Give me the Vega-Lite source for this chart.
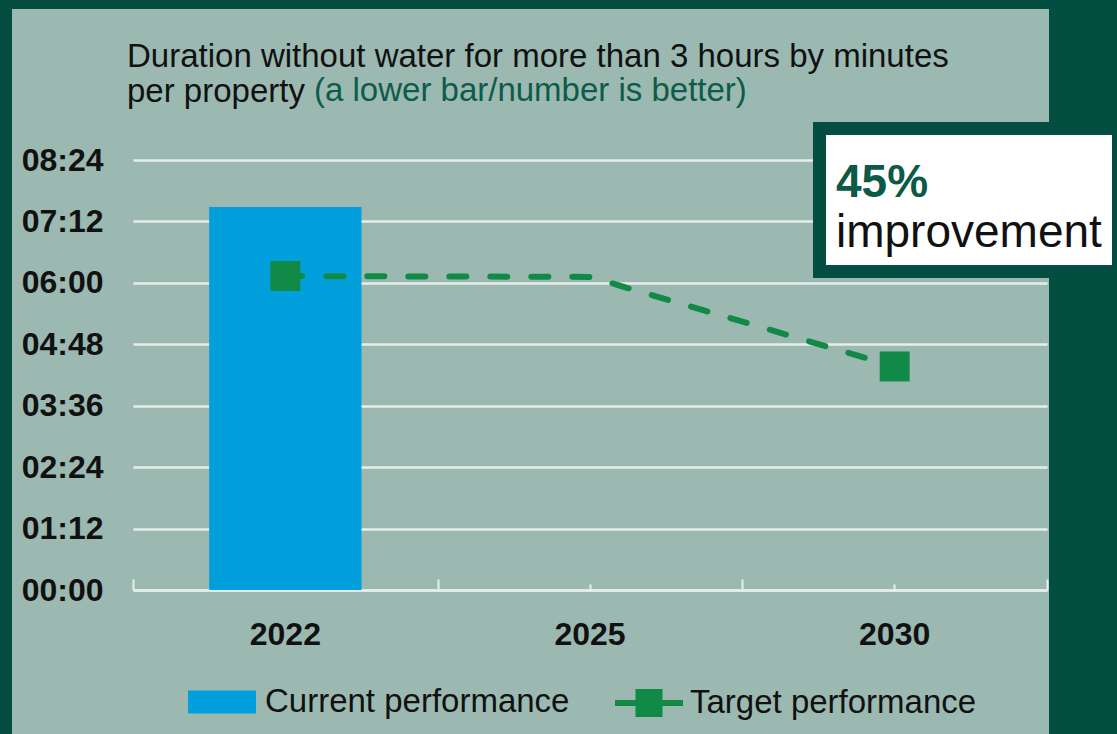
{
  "$schema": "https://vega.github.io/schema/vega-lite/v6.json",
  "width": 914,
  "height": 430,
  "autosize": "none",
  "padding": {"left": 133, "top": 160, "right": 70, "bottom": 144},
  "background": "#9bb9b1",
  "title": {
    "text": ["Duration without water for more than 3 hours by minutes", "per property"],
    "anchor": "start",
    "frame": "group",
    "orient": "top",
    "dx": -6,
    "offset": -109,
    "font": "Liberation Sans",
    "fontSize": 33,
    "fontWeight": "normal",
    "color": "#111111",
    "lineHeight": 35
  },
  "layer": [
    {
      "data": {"values": [{}]},
      "layer": [
        {
          "mark": {"type": "rect", "color": "#044e41"},
          "encoding": {
            "x": {"datum": -0.6, "type": "quantitative", "scale": {"domain": [0, 3], "nice": false, "zero": false},
              "axis": {"values": [0, 1, 2, 3], "orient": "bottom", "labels": false, "grid": false, "domain": false, "ticks": true, "tickSize": -11, "tickWidth": 2, "tickColor": "#e6eeeb", "title": null}},
            "x2": {"datum": -0.3972},
            "y": {"datum": -200, "type": "quantitative", "scale": {"domain": [0, 504], "nice": false}},
            "y2": {"datum": 691.5}
          }
        },
        {
          "mark": {"type": "rect", "color": "#044e41"},
          "encoding": {
            "x": {"datum": -0.6, "type": "quantitative", "scale": {"domain": [0, 3], "nice": false, "zero": false}},
            "x2": {"datum": 3.4},
            "y": {"datum": 681, "type": "quantitative", "scale": {"domain": [0, 504], "nice": false}},
            "y2": {"datum": 691.5}
          }
        },
        {
          "mark": {"type": "rect", "color": "#044e41"},
          "encoding": {
            "x": {"datum": 3.0066, "type": "quantitative", "scale": {"domain": [0, 3], "nice": false, "zero": false}},
            "x2": {"datum": 3.4},
            "y": {"datum": -200, "type": "quantitative", "scale": {"domain": [0, 504], "nice": false}},
            "y2": {"datum": 691.5}
          }
        }
      ]
    },
    {
      "data": {
        "values": [
          {"year": "2022", "series": "Current performance", "minutes": 449},
          {"year": "2022", "series": "Target performance", "minutes": 368},
          {"year": "2025", "series": "Target performance", "minutes": 367},
          {"year": "2030", "series": "Target performance", "minutes": 262}
        ]
      },
      "encoding": {
        "x": {
          "field": "year", "type": "ordinal",
          "scale": {"type": "band", "domain": ["2022", "2025", "2030"], "paddingInner": 0, "paddingOuter": 0},
          "axis": {"title": null, "orient": "bottom", "labelAngle": 0, "domain": true, "domainColor": "#e6eeeb", "domainWidth": 2.5, "ticks": true, "tickColor": "#e6eeeb", "tickWidth": 2, "tickSize": -6, "labelPadding": 35, "grid": false}
        },
        "y": {
          "field": "minutes", "type": "quantitative",
          "scale": {"domain": [0, 504], "nice": false},
          "axis": {
            "title": null,
            "orient": "left",
            "values": [0, 72, 144, 216, 288, 360, 432, 504],
            "grid": true, "gridColor": "#e6eeeb", "gridWidth": 2.5,
            "domain": false, "ticks": false, "labelPadding": 30,
            "labelExpr": "(floor(datum.value/60) < 10 ? '0' : '') + floor(datum.value/60) + ':' + (datum.value % 60 < 10 ? '0' : '') + (datum.value % 60)"
          }
        }
      },
      "layer": [
        {
          "transform": [{"filter": "datum.series == 'Current performance'"}],
          "mark": {"type": "bar", "width": {"band": 0.5}},
          "encoding": {
            "fill": {
              "field": "series", "type": "nominal",
              "scale": {"domain": ["Current performance"], "range": ["#01a0dc"]},
              "legend": {"orient": "none", "legendX": 55, "legendY": 508, "title": null, "padding": 0,
                "symbolType": "M-1,-0.34H1V0.34H-1Z", "symbolSize": 4624, "symbolStrokeWidth": 0, "labelOffset": 9}
            }
          }
        },
        {
          "transform": [{"filter": "datum.series == 'Target performance'"}],
          "mark": {"type": "line", "strokeWidth": 6, "strokeDash": [17, 24], "strokeCap": "round"},
          "encoding": {
            "stroke": {
              "field": "series", "type": "nominal",
              "scale": {"domain": ["Target performance"], "range": ["#128a47"]},
              "legend": {"orient": "none", "legendX": 479, "legendY": 506, "title": null, "padding": 0,
                "symbolType": "M-1,0H1M-0.31,-0.32H0.31V0.32H-0.31Z", "symbolSize": 4624, "symbolStrokeWidth": 6,
                "symbolFillColor": "#128a47", "symbolDash": [1, 0], "labelOffset": 4}
            }
          }
        },
        {
          "transform": [{"filter": "datum.series == 'Target performance' && datum.year != '2025'"}],
          "mark": {"type": "point", "shape": "square", "filled": true, "size": 900, "color": "#128a47", "opacity": 1}
        }
      ]
    },
    {
      "data": {"values": [{}]},
      "layer": [
        {
          "mark": {"type": "text", "text": "(a lower bar/number is better)", "font": "Liberation Sans", "fontSize": 33, "color": "#0d5c49", "align": "left", "baseline": "alphabetic"},
          "encoding": {
            "x": {"datum": 0.5941, "type": "quantitative", "scale": {"domain": [0, 3], "nice": false, "zero": false}, "axis": null},
            "y": {"datum": 573.2, "type": "quantitative", "scale": {"domain": [0, 504], "nice": false}}
          }
        },
        {
          "mark": {"type": "rect", "color": "#044e41"},
          "encoding": {
            "x": {"datum": 2.2319, "type": "quantitative", "scale": {"domain": [0, 3], "nice": false, "zero": false}, "axis": null},
            "x2": {"datum": 3.4},
            "y": {"datum": 365.7, "type": "quantitative", "scale": {"domain": [0, 504], "nice": false}},
            "y2": {"datum": 548.5}
          }
        },
        {
          "mark": {"type": "rect", "color": "#ffffff"},
          "encoding": {
            "x": {"datum": 2.2746, "type": "quantitative", "scale": {"domain": [0, 3], "nice": false, "zero": false}, "axis": null},
            "x2": {"datum": 3.2133},
            "y": {"datum": 380.9, "type": "quantitative", "scale": {"domain": [0, 504], "nice": false}},
            "y2": {"datum": 533.3}
          }
        },
        {
          "mark": {"type": "text", "text": "45%", "font": "Liberation Sans", "fontSize": 46, "fontWeight": "bold", "color": "#0b5a47", "align": "left", "baseline": "alphabetic"},
          "encoding": {
            "x": {"datum": 2.3074, "type": "quantitative", "scale": {"domain": [0, 3], "nice": false, "zero": false}, "axis": null},
            "y": {"datum": 460.6, "type": "quantitative", "scale": {"domain": [0, 504], "nice": false}}
          }
        },
        {
          "mark": {"type": "text", "text": "improvement", "font": "Liberation Sans", "fontSize": 46, "fontWeight": "normal", "color": "#111111", "align": "left", "baseline": "alphabetic"},
          "encoding": {
            "x": {"datum": 2.3074, "type": "quantitative", "scale": {"domain": [0, 3], "nice": false, "zero": false}, "axis": null},
            "y": {"datum": 402.0, "type": "quantitative", "scale": {"domain": [0, 504], "nice": false}}
          }
        }
      ]
    }
  ],
  "resolve": {"scale": {"x": "independent"}, "axis": {"x": "independent"}},
  "config": {
    "view": {"stroke": null},
    "axis": {"labelFont": "Liberation Sans", "labelFontSize": 32, "labelFontWeight": "bold", "labelColor": "#111111"},
    "legend": {"labelFont": "Liberation Sans", "labelFontSize": 33, "labelColor": "#111111", "labelLimit": 0}
  }
}
